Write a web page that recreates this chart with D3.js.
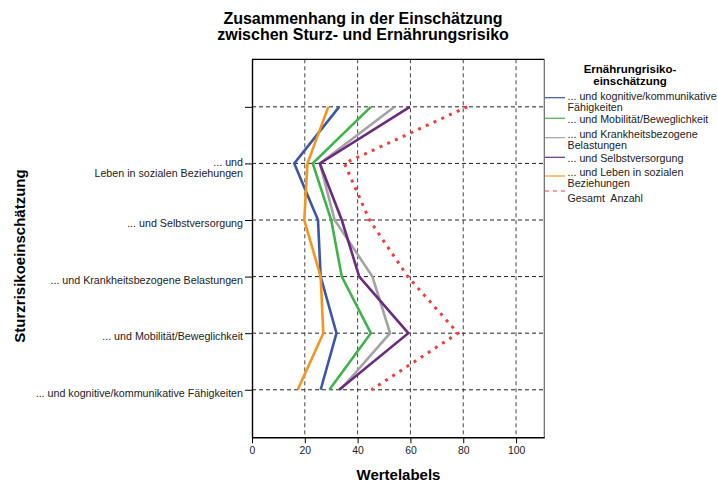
<!DOCTYPE html>
<html>
<head>
<meta charset="utf-8">
<script src="https://cdn.jsdelivr.net/npm/d3@7"></script>
<style>
  html, body { margin: 0; padding: 0; background: #fff; }
  svg { display: block; font-family: "Liberation Sans", Arial, sans-serif; }
</style>
</head>
<body>
<svg id="chart" width="718" height="482"></svg>
<script>
// ---- data ----
const categories = ["c0", "c1", "c2", "c3", "c4", "c5"];
const categoryLabels = [
  [""],
  ["... und", "Leben in sozialen Beziehungen"],
  ["... und Selbstversorgung"],
  ["... und Krankheitsbezogene Belastungen"],
  ["... und Mobilität/Beweglichkeit"],
  ["... und kognitive/kommunikative Fähigkeiten"]
];
const xTicks = [0, 20, 40, 60, 80, 100];

const seriesNames = [
  ["... und kognitive/kommunikative", "Fähigkeiten"],
  ["... und Mobilität/Beweglichkeit"],
  ["... und Krankheitsbezogene", "Belastungen"],
  ["... und Selbstversorgung"],
  ["... und Leben in sozialen", "Beziehungen"],
  ["Gesamt  Anzahl"]
];
const kognitive   = [33, 16, 25, 26, 32, 26];
const mobilitaet  = [45, 23, 30, 34, 45, 29.3];
const krankheit   = [54, 25.7, 31.3, 45.6, 52.3, 33.5];
const selbst      = [59.8, 25.7, 34, 40.6, 59.2, 33];
const leben       = [28.9, 21, 19.8, 26, 27, 17.3];
const gesamt      = [81.5, 35, 44.5, 59, 78, 45.3];
const seriesValues = [kognitive, mobilitaet, krankheit, selbst, leben, gesamt];
const seriesColors = ["#3b56a6", "#3db34a", "#a3a3a3", "#6b2a7f", "#f7941d", "#f23c3c"];

// ---- layout ----
const svg = d3.select("#chart");
const plot = { left: 252, right: 544.3, top: 59.3, bottom: 437.3 };
const FONT = "Liberation Sans, Arial, sans-serif";

const x = d3.scaleLinear().domain([0, 110.7]).range([plot.left, plot.right]);
const y = d3.scalePoint().domain(categories).range([plot.top, plot.bottom]).padding(0.84);

// title
svg.append("text").attr("x", 363).attr("y", 24).attr("text-anchor", "middle")
  .attr("font-size", 16).attr("font-weight", "bold").text("Zusammenhang in der Einschätzung");
svg.append("text").attr("x", 363).attr("y", 40.3).attr("text-anchor", "middle")
  .attr("font-size", 16).attr("font-weight", "bold").text("zwischen Sturz- und Ernährungsrisiko");

// gridlines
const gv = svg.append("g");
gv.selectAll("line.v").data(xTicks.filter(d => d > 0)).join("line")
  .attr("x1", d => x(d)).attr("x2", d => x(d))
  .attr("y1", plot.top).attr("y2", plot.bottom)
  .attr("stroke", "#444").attr("stroke-dasharray", "4,3").attr("stroke-width", 1);
gv.selectAll("line.h").data(categories).join("line")
  .attr("x1", plot.left).attr("x2", plot.right)
  .attr("y1", d => y(d)).attr("y2", d => y(d))
  .attr("stroke", "#222").attr("stroke-dasharray", "4,3").attr("stroke-width", 1);

// frame: top and right
svg.append("line").attr("x1", plot.left).attr("x2", plot.right).attr("y1", plot.top).attr("y2", plot.top)
  .attr("stroke", "#000").attr("stroke-width", 1.2);
svg.append("line").attr("x1", plot.right).attr("x2", plot.right).attr("y1", plot.top).attr("y2", plot.bottom)
  .attr("stroke", "#666").attr("stroke-width", 1.2);

// x axis
const xAxis = svg.append("g").attr("transform", `translate(0,${plot.bottom})`)
  .call(d3.axisBottom(x).tickValues(xTicks).tickSizeInner(6).tickSizeOuter(0).tickPadding(3));
xAxis.select(".domain").attr("stroke", "#000").attr("stroke-width", 1.4);
xAxis.selectAll("text").attr("font-size", 10.4).attr("fill", "#222").attr("font-family", FONT);

// y axis
const yAxis = svg.append("g").attr("transform", `translate(${plot.left},0)`)
  .call(d3.axisLeft(y).tickSizeInner(7).tickSizeOuter(0).tickFormat(() => ""));
yAxis.select(".domain").attr("stroke", "#000").attr("stroke-width", 1.4);
yAxis.selectAll(".tick line").attr("stroke", "#000");
yAxis.selectAll(".tick").each(function(d, i) {
  const lines = categoryLabels[i];
  const t = d3.select(this).append("text")
    .attr("x", -9).attr("text-anchor", "end").attr("fill", "#222")
    .attr("font-size", 10.7).attr("font-family", FONT);
  const start = lines.length === 1 ? 6.5 : 2.2;
  lines.forEach((s, k) => {
    t.append("tspan").attr("x", -9).attr("y", start + k * 10.6).text(s);
  });
});

// axis titles
svg.append("text").attr("transform", "translate(25,256) rotate(-90)").attr("text-anchor", "middle")
  .attr("font-size", 15).attr("font-weight", "bold").text("Sturzrisikoeinschätzung");
svg.append("text").attr("x", 398.5).attr("y", 479.5).attr("text-anchor", "middle")
  .attr("font-size", 15).attr("font-weight", "bold").text("Wertelabels");

// lines
const line = d3.line().x(d => x(d.v)).y(d => y(d.c));
seriesValues.forEach((vals, i) => {
  const pts = vals.map((v, k) => ({ v, c: categories[k] }));
  const p = svg.append("path").datum(pts).attr("d", line)
    .attr("fill", "none").attr("stroke", seriesColors[i]);
  if (i === 5) {
    p.attr("stroke-width", 3).attr("stroke-dasharray", "3,5.5");
  } else {
    p.attr("stroke-width", 2.6).attr("stroke-linejoin", "miter");
  }
});

// legend
const lg = svg.append("g");
lg.append("text").attr("x", 630).attr("y", 72.5).attr("text-anchor", "middle")
  .attr("font-size", 11.5).attr("font-weight", "bold").text("Ernährungrisiko-");
lg.append("text").attr("x", 630).attr("y", 85).attr("text-anchor", "middle")
  .attr("font-size", 11.5).attr("font-weight", "bold").text("einschätzung");
const legendLineY = [97.7, 118.3, 137.7, 157.3, 176, 191];
const legendTextY = [99.8, 122.6, 138, 162, 176, 201.5];
seriesNames.forEach((lines, i) => {
  const l = lg.append("line").attr("x1", 545).attr("x2", 565)
    .attr("y1", legendLineY[i]).attr("y2", legendLineY[i])
    .attr("stroke", seriesColors[i]).attr("stroke-width", 1.2);
  if (i === 5) l.attr("stroke-dasharray", "4,4");
  const t = lg.append("text").attr("font-size", 10.7).attr("fill", "#222")
    .style("white-space", "pre");
  lines.forEach((s, k) => {
    t.append("tspan").attr("x", 567.5).attr("y", legendTextY[i] + k * 10.8).text(s);
  });
});
</script>
</body>
</html>
